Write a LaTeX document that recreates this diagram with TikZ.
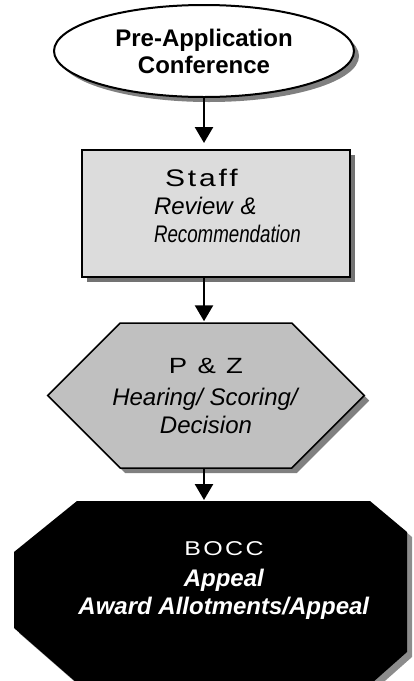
\documentclass[tikz,border=0pt]{standalone}
\usepackage{fontspec}
\usepackage{graphicx}
\setmainfont{Liberation Sans}
\newfontfamily\widefont[FakeStretch=1.25,LetterSpace=12]{Liberation Sans}
\usetikzlibrary{shapes.geometric,shapes.symbols,shadows,arrows.meta}
\definecolor{boxgray}{HTML}{DCDCDC}
\definecolor{hexgray}{HTML}{C0C0C0}

\begin{document}
\begin{tikzpicture}[
      x=1pt, y=-1pt,
      flow arrow/.style={line width=2.5pt,-{Triangle[width=18pt,length=16pt]},shorten >=#1},
      flow arrow/.default=2pt,
      gray shadow/.style={drop shadow={shadow xshift=5pt,shadow yshift=-5pt,fill=#1,opacity=1}},
      gray shadow/.default=gray,
      font=\fontsize{24}{28}\selectfont]
    \useasboundingbox (0,0) rectangle (413,681);
    \node (preapp) [ellipse,draw,line width=2pt,fill=white,gray shadow,minimum width=300pt,minimum height=92pt,inner sep=0pt,align=center,font=\fontsize{24}{27}\selectfont\bfseries] at (204,51) {Pre-Application\\Conference};
    \node (staff) [rectangle,draw,line width=2pt,fill=boxgray,gray shadow=black!55,minimum width=268pt,minimum height=127pt] at (216,213.5) {};
    \node (stafftext) [text width=124pt,align=left] at (216,206) {\hspace*{11pt}{\widefont Staff}\\\textit{Review \&}\\\textit{\scalebox{0.78}[1]{Recommendation}}};
    \node (pz) [signal,signal to=east and west,signal pointer angle=90,draw,line width=1.5pt,fill=hexgray,gray shadow=black!50,inner xsep=-8pt,minimum height=145pt,align=center] at (206,395.5) {{\widefont\fontsize{22}{28}\selectfont P \& Z}\\[4pt]\textit{Hearing/ Scoring/}\\\textit{Decision}};
    \fill[black!45,xshift=5pt,yshift=-5pt] (77,501) -- (370,501) -- (407,532) -- (407,652) -- (372,683) -- (77,683) -- (14,628) -- (14,552) -- cycle;
    \fill[black] (77,501) -- (370,501) -- (407,532) -- (407,652) -- (372,683) -- (77,683) -- (14,628) -- (14,552) -- cycle;
    \coordinate (bocctop) at (204,501);
    \node (bocc) [text=white,align=center] at (224,580) {{\widefont\fontsize{20}{28}\selectfont BOCC}\\[3pt]\textbf{\textit{Appeal}}\\\textbf{\textit{Award Allotments/Appeal}}};
    \draw[flow arrow=6pt] (preapp.south) -- (preapp.south |- staff.north);
    \draw[flow arrow=1pt] (preapp.south |- staff.south) -- (preapp.south |- pz.north);
    \draw[flow arrow=1pt] (preapp.south |- pz.south) -- (bocctop);
\end{tikzpicture}
\end{document}
